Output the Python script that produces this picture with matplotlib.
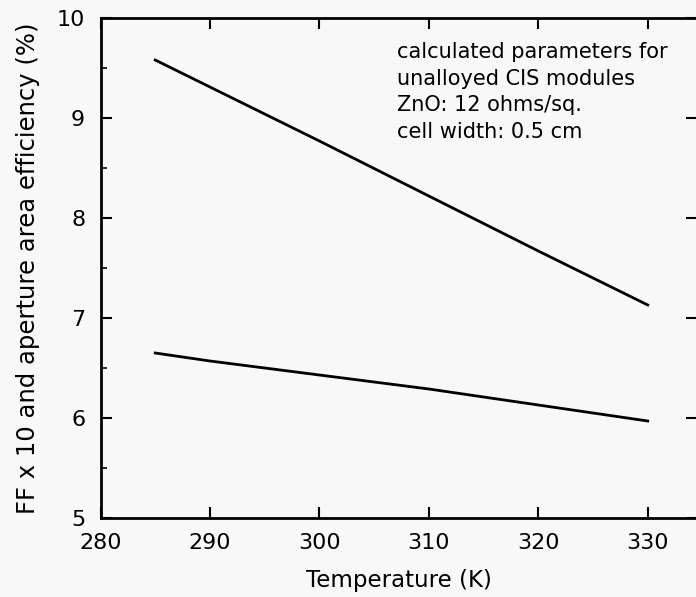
import matplotlib
matplotlib.use("Agg")
import matplotlib.pyplot as plt
from matplotlib.ticker import MultipleLocator

# Calculated module parameters vs. temperature
temperature = [285, 290, 300, 310, 320, 330]
upper_curve = [9.58, 9.31, 8.77, 8.22, 7.67, 7.13]
lower_curve = [6.65, 6.57, 6.43, 6.29, 6.13, 5.97]

x_ticks = [280, 290, 300, 310, 320, 330]
y_ticks = [5, 6, 7, 8, 9, 10]

note_lines = [
    "calculated parameters for",
    "unalloyed CIS modules",
    "ZnO: 12 ohms/sq.",
    "cell width: 0.5 cm",
]

W, H = 696, 597
fig = plt.figure(figsize=(W / 100, H / 100), dpi=100, facecolor="#f8f8f8")
left, right, top, bottom = 100.5, 697.0, 18.0, 518.0
ax = fig.add_axes([left / W, 1 - bottom / H, (right - left) / W, (bottom - top) / H])
ax.set_facecolor("#f8f8f8")

ax.plot(temperature, upper_curve, color="black", lw=2.0)
ax.plot(temperature, lower_curve, color="black", lw=2.0)

ax.set_xlim(280, 334.5)
ax.set_ylim(5, 10)
ax.set_xticks(x_ticks)
ax.set_yticks(y_ticks)
ax.yaxis.set_minor_locator(MultipleLocator(0.5))

for s in ax.spines.values():
    s.set_linewidth(2.0)

ax.tick_params(which="major", direction="in", length=8, width=1.5,
               top=True, right=True, labelsize=16, colors="black")
ax.tick_params(axis="x", which="major", pad=11)
ax.tick_params(axis="y", which="major", pad=11)
ax.tick_params(axis="y", which="minor", direction="in", length=4, width=1.2,
               left=True, right=False)

ax.set_xlabel("Temperature (K)", fontsize=16.5, labelpad=11)
ax.set_ylabel("FF x 10 and aperture area efficiency (%)", fontsize=17.5, labelpad=12)

ax.text(0.497, 0.952, "\n".join(note_lines), transform=ax.transAxes,
        fontsize=15, va="top", ha="left", linespacing=1.42)

fig.savefig("out.png", dpi=100, facecolor=fig.get_facecolor())
